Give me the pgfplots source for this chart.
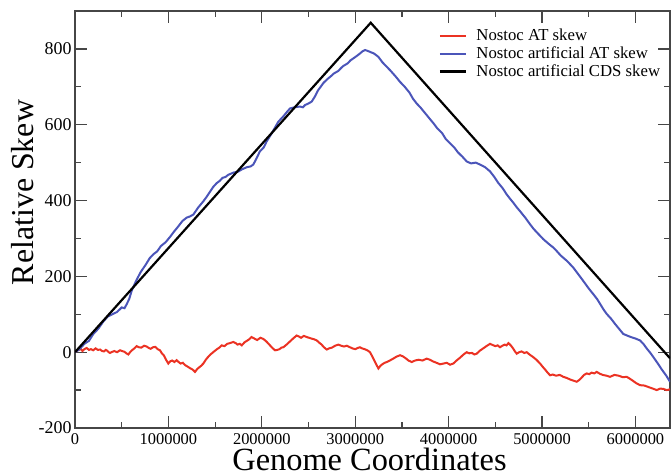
\documentclass[border=0pt]{standalone}
\usepackage{pgfplots}
\pgfplotsset{compat=1.18}
\usepackage{fontspec}
\setmainfont{Liberation Serif}
\definecolor{skred}{RGB}{235,50,35}
\definecolor{skblue}{RGB}{75,85,185}
\definecolor{axgray}{RGB}{70,70,70}
\begin{document}
\begin{tikzpicture}
\begin{axis}[
  scale only axis, width=595bp, height=417bp,
  xmin=0, xmax=6370000, ymin=-200, ymax=900,
  xtick={0,1000000,2000000,3000000,4000000,5000000,6000000},
  ytick={-200,0,200,400,600,800},
  minor x tick num=1, minor y tick num=1,
  scaled x ticks=false,
  xticklabel style={/pgf/number format/fixed,/pgf/number format/1000 sep={},font=\fontsize{16.5}{18}\selectfont, inner sep=0pt, text height=11bp, text depth=0pt, yshift=-5bp},
  yticklabel style={font=\fontsize{18}{20}\selectfont},
  /pgf/number format/assume math mode=true,
  tick align=inside, major tick length=12bp, minor tick length=6bp,
  axis line style={axgray,line width=1.2bp},
  every tick/.style={axgray,line width=1.2bp},
  xtick pos=both, ytick pos=both,
  xticklabel pos=bottom, yticklabel pos=left,
  clip=true,
  legend cell align=left,
  legend image code/.code={\draw[#1] (0bp,0bp) -- (26bp,0bp); \path (34bp,0bp);},
  legend style={draw=none, fill=none, at={(0.606,0.968)}, anchor=north west,
    font=\fontsize{16.8}{18.5}\selectfont,
    nodes={inner sep=1.5bp, text height=12bp, text depth=3bp}},
]
\addplot[skred, line width=2bp] coordinates {
(0,0) (20000,4) (40000,6) (60000,9) (80000,3) (100000,8) (125000,11) (150000,6) (170000,8) (195000,5) (220000,10) (245000,6) (268000,7) (290000,3) (310000,2) (330000,6) (345000,4) (360000,0) (375000,-2)
(400000,1) (420000,3) (450000,0) (482000,5) (505000,3) (530000,1) (550000,-3) (571000,-6) (590000,0) (610000,5) (635000,10) (660000,16) (685000,13) (710000,12) (740000,17) (767000,15) (790000,11) (810000,9) (835000,13) (860000,14)
(885000,8) (910000,5) (930000,-3) (950000,-8) (975000,-20) (999000,-30) (1020000,-24) (1040000,-22) (1065000,-26) (1088000,-21) (1110000,-26) (1130000,-30) (1155000,-28) (1178000,-34) (1205000,-38) (1230000,-42) (1260000,-46) (1285000,-52) (1310000,-44) (1330000,-40)
(1350000,-36) (1374000,-30) (1400000,-20) (1420000,-14) (1450000,-6) (1480000,0) (1500000,4) (1520000,8) (1545000,12) (1570000,18) (1600000,16) (1630000,22) (1660000,24) (1695000,27) (1720000,24) (1740000,20) (1765000,22) (1785000,18) (1815000,26) (1840000,30)
(1865000,34) (1890000,40) (1920000,36) (1950000,32) (1985000,38) (2016000,35) (2050000,28) (2080000,20) (2110000,12) (2141000,5) (2165000,6) (2190000,8) (2210000,12) (2230000,13) (2265000,20) (2300000,28) (2335000,36) (2373000,44) (2400000,41) (2420000,38)
(2450000,43) (2480000,40) (2505000,38) (2530000,36) (2560000,34) (2588000,31) (2615000,25) (2640000,20) (2665000,13) (2695000,7) (2720000,10) (2750000,12) (2785000,17) (2820000,20) (2850000,17) (2880000,15) (2910000,17) (2944000,13) (2970000,10) (3000000,8)
(3025000,11) (3051000,13) (3075000,10) (3100000,8) (3130000,5) (3158000,0) (3180000,-10) (3200000,-20) (3225000,-32) (3248000,-43) (3270000,-36) (3290000,-32) (3315000,-28) (3337000,-26) (3370000,-22) (3400000,-18) (3440000,-12) (3480000,-8) (3510000,-11) (3540000,-16)
(3570000,-22) (3605000,-26) (3640000,-22) (3680000,-20) (3720000,-22) (3765000,-17) (3800000,-20) (3830000,-24) (3870000,-28) (3908000,-32) (3945000,-30) (3980000,-28) (4015000,-33) (4050000,-30) (4085000,-22) (4120000,-15) (4160000,-6) (4194000,0) (4220000,-3) (4250000,-2)
(4275000,-6) (4300000,-4) (4335000,4) (4370000,10) (4405000,16) (4443000,22) (4470000,19) (4500000,16) (4525000,18) (4550000,13) (4575000,17) (4600000,20) (4620000,18) (4640000,24) (4665000,18) (4690000,10) (4710000,2) (4729000,-4) (4755000,0) (4780000,2)
(4810000,-2) (4836000,0) (4865000,-6) (4900000,-12) (4940000,-20) (4979000,-30) (5005000,-38) (5030000,-45) (5060000,-54) (5086000,-61) (5115000,-59) (5150000,-62) (5190000,-60) (5228000,-65) (5265000,-68) (5300000,-72) (5335000,-75) (5371000,-78) (5395000,-74) (5420000,-68)
(5450000,-60) (5478000,-56) (5505000,-58) (5530000,-54) (5560000,-56) (5585000,-52) (5620000,-57) (5650000,-60) (5690000,-62) (5728000,-65) (5775000,-60) (5820000,-62) (5865000,-66) (5907000,-65) (5940000,-70) (5970000,-75) (6010000,-82) (6049000,-87) (6095000,-88) (6140000,-92)
(6185000,-96) (6228000,-100) (6265000,-96) (6300000,-97) (6335000,-100) (6370000,-98)
};
\addlegendentry{Nostoc AT skew}
\addplot[skblue, line width=2bp] coordinates {
(0,0) (50000,8) (100000,22) (150000,30) (196000,48) (250000,62) (300000,80) (350000,94) (400000,100) (450000,106) (500000,118) (530000,116) (550000,125) (580000,140) (607000,162) (650000,186) (700000,210) (760000,232) (800000,248) (838000,258)
(880000,266) (920000,280) (970000,290) (1017000,304) (1060000,318) (1100000,330) (1150000,346) (1196000,355) (1230000,358) (1267000,363) (1320000,382) (1374000,398) (1410000,410) (1450000,425) (1480000,436) (1517000,446) (1550000,452) (1580000,460) (1610000,462) (1642000,468)
(1700000,474) (1745000,476) (1785000,482) (1840000,488) (1880000,490) (1909000,495) (1945000,512) (1980000,530) (2020000,540) (2052000,556) (2100000,575) (2140000,592) (2177000,608) (2230000,622) (2270000,634) (2302000,643) (2350000,646) (2409000,648) (2440000,646) (2463000,652)
(2500000,656) (2534000,661) (2570000,675) (2600000,690) (2630000,700) (2659000,710) (2700000,720) (2740000,728) (2770000,735) (2820000,742) (2850000,750) (2873000,755) (2920000,762) (2950000,770) (2980000,775) (3020000,782) (3051000,788) (3080000,794) (3105000,797) (3130000,795)
(3160000,792) (3200000,788) (3248000,779) (3290000,765) (3337000,753) (3380000,742) (3430000,728) (3480000,713) (3530000,700) (3580000,685) (3620000,668) (3658000,656) (3700000,645) (3750000,630) (3790000,618) (3837000,604) (3880000,590) (3930000,578) (3970000,562) (4015000,551)
(4060000,540) (4100000,527) (4150000,515) (4194000,503) (4240000,498) (4290000,500) (4336000,495) (4390000,488) (4443000,477) (4490000,462) (4530000,447) (4580000,432) (4622000,416) (4660000,404) (4690000,395) (4730000,382) (4764000,372) (4820000,355) (4870000,338) (4907000,326)
(4960000,312) (5014000,298) (5070000,286) (5121000,276) (5160000,266) (5200000,255) (5270000,240) (5335000,223) (5390000,205) (5450000,185) (5500000,168) (5549000,153) (5590000,140) (5620000,128) (5660000,112) (5692000,101) (5740000,88) (5780000,75) (5830000,60) (5870000,48)
(5910000,44) (5950000,40) (6000000,36) (6049000,31) (6085000,22) (6120000,10) (6160000,-2) (6192000,-13) (6240000,-30) (6280000,-45) (6330000,-62) (6370000,-78)
};
\addlegendentry{Nostoc artificial AT skew}
\addplot[black, line width=2.2bp] coordinates {(0,0) (3166000,869) (6370000,-16)};
\addlegendentry{Nostoc artificial CDS skew}
\end{axis}
\node[anchor=base, inner sep=0pt, text height=22bp, text depth=0pt, font=\fontsize{32.5}{36}\selectfont] at ([xshift=-3bp,yshift=-42bp]current axis.south) {Genome Coordinates};
\node[anchor=base, rotate=90, font=\fontsize{32}{36}\selectfont] at ([xshift=-42bp,yshift=27bp]current axis.west) {Relative Skew};
\pgfresetboundingbox
\path[use as bounding box] ([xshift=-75bp,yshift=-48bp]current axis.south west) rectangle ([xshift=1bp,yshift=11bp]current axis.north east);
\end{tikzpicture}
\end{document}
